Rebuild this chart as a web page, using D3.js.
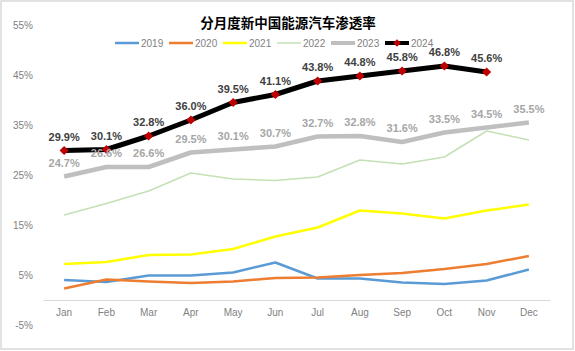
<!DOCTYPE html>
<html><head><meta charset="utf-8">
<script src="https://cdn.jsdelivr.net/npm/d3@7"></script>
<style>body{margin:0;background:#fff}svg{display:block}</style>
</head><body>
<svg id="c" width="575" height="351"></svg>
<script>
const months = ["Jan","Feb","Mar","Apr","May","Jun","Jul","Aug","Sep","Oct","Nov","Dec"];
const yTicks = [-5,5,15,25,35,45,55];
const s2019 = [4.0,3.6,4.9,4.9,5.5,7.5,4.3,4.3,3.5,3.2,3.9,6.1];
const s2020 = [2.3,4.1,3.7,3.4,3.7,4.4,4.5,5.0,5.4,6.2,7.2,8.8];
const s2021 = [7.2,7.6,9.0,9.1,10.2,12.7,14.5,17.9,17.3,16.3,17.9,19.1];
const s2022 = [17.0,19.3,21.8,25.4,24.2,23.9,24.6,28.0,27.2,28.6,33.8,32.0];
const s2023 = [24.7,26.6,26.6,29.5,30.1,30.7,32.7,32.8,31.6,33.5,34.5,35.5];
const s2024 = [29.9,30.1,32.8,36.0,39.5,41.1,43.8,44.8,45.8,46.8,45.6];

const series = [
  {name:"2019", data:s2019, color:"#5b9bd5", w:2.5},
  {name:"2020", data:s2020, color:"#ed7d31", w:2.5},
  {name:"2021", data:s2021, color:"#ffff00", w:2.5},
  {name:"2022", data:s2022, color:"#c5e0b4", w:1.5},
  {name:"2023", data:s2023, color:"#bfbfbf", w:4.5, labels:true, labelColor:"#a6a6a6"},
  {name:"2024", data:s2024, color:"#000000", w:5, labels:true, labelColor:"#404040", marker:true}
];

const svg = d3.select("#c");
svg.append("rect").attr("x",1).attr("y",1).attr("width",572).attr("height",348)
  .attr("fill","#fff").attr("stroke","#d9d9d9").attr("stroke-width",1.5);

const x = d3.scaleBand().domain(months).range([43,550]);
const cx = m => x(m) + x.bandwidth()/2;
const y = d3.scaleLinear().domain([-5,55]).range([325,25]);

const yAxis = d3.axisLeft(y).tickValues(yTicks).tickSize(0).tickFormat(d => d + "%");
const ya = svg.append("g").attr("transform","translate(36,0)").call(yAxis);
ya.select(".domain").remove();
ya.selectAll("text").attr("fill","#7f7f7f").style("font-family","Liberation Sans, Arial, sans-serif").style("font-size","10px");

const xAxis = d3.axisBottom(x).tickSize(0).tickPadding(9);
const xa = svg.append("g").attr("transform",`translate(0,${y(0)})`).call(xAxis);
xa.select(".domain").attr("stroke","#d9d9d9").attr("stroke-width",1);
xa.selectAll("text").attr("fill","#7f7f7f").style("font-family","Liberation Sans, Arial, sans-serif").style("font-size","10px");

const line = d3.line().x((d,i) => cx(months[i])).y(d => y(d));

series.forEach(s => {
  svg.append("path").datum(s.data).attr("d", line).attr("fill","none")
    .attr("stroke", s.color).attr("stroke-width", s.w).attr("stroke-linejoin","round");
});

const s24 = series[5];
svg.append("g").selectAll("path").data(s24.data).join("path")
  .attr("d", d3.symbol(d3.symbolSquare, 42))
  .attr("transform",(d,i)=>`translate(${cx(months[i])},${y(d)}) rotate(45)`)
  .attr("fill","#c00000");

[series[4], series[5]].forEach(s => {
  svg.append("g").selectAll("text").data(s.data).join("text")
    .attr("x",(d,i)=>cx(months[i]))
    .attr("y",d=>y(d) - 10)
    .attr("text-anchor","middle")
    .attr("fill", s.labelColor)
    .style("font-family","Liberation Sans, Arial, sans-serif")
    .style("font-size","11px").style("font-weight","bold")
    .text(d => d.toFixed(1) + "%");
});

svg.append("text").attr("x",288).attr("y",28).attr("text-anchor","middle")
  .style("font-family","Noto Sans CJK SC, sans-serif").style("font-size","13.5px").style("font-weight","bold")
  .attr("fill","#000").text("分月度新中国能源汽车渗透率");

const lg = svg.append("g").selectAll("g").data(series).join("g")
  .attr("transform",(d,i)=>`translate(${115 + i*54},43)`);
lg.append("line").attr("x1",0).attr("x2",24).attr("y1",0).attr("y2",0)
  .attr("stroke",d=>d.color).attr("stroke-width",d=>Math.min(d.w,4));
lg.filter(d=>d.marker).append("path").attr("d", d3.symbol(d3.symbolSquare, 30))
  .attr("transform","translate(12,0) rotate(45)").attr("fill","#c00000");
lg.append("text").attr("x",26).attr("y",4).text(d=>d.name)
  .attr("fill","#7f7f7f").style("font-family","Liberation Sans, Arial, sans-serif").style("font-size","10px");
</script>
</body></html>
